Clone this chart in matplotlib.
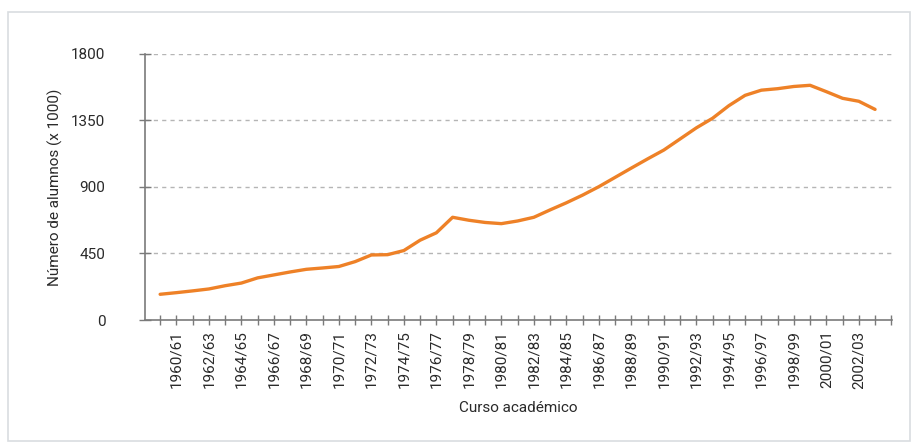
import matplotlib
matplotlib.use("Agg")
import matplotlib.pyplot as plt
from matplotlib.patches import Rectangle
from matplotlib.ticker import FixedLocator

plt.rcParams['font.family'] = ['Roboto', 'DejaVu Sans']

# Academic years 1959/60 .. 2003/04
start_years = list(range(1959, 2004))
courses = [f"{y}/{str(y + 1)[-2:]}" for y in start_years]

students = [174, 185, 197, 210, 232, 250, 285, 305, 325, 343,
            352, 362, 395, 440, 442, 470, 540, 590, 695, 675,
            660, 652, 670, 695, 745, 793, 845, 902, 965, 1028,
            1090, 1150, 1225, 1300, 1365, 1450, 1520, 1555, 1565, 1580,
            1588, 1545, 1500, 1480, 1425]

y_ticks = [0, 450, 900, 1350, 1800]
label_every = 2
label_offset = 1  # first labelled course is 1960/61

fig = plt.figure(figsize=(9.15, 4.46), dpi=100)
fig.patch.set_facecolor('white')
fig.add_artist(Rectangle((0.009, 0.012), 0.985, 0.962, transform=fig.transFigure,
                         fill=False, edgecolor='#d9dde0', linewidth=1.2))

ax = fig.add_axes([0.1585, 0.2825, 0.8165, 0.5965])
x = list(range(len(students)))
ax.plot(x, students, color='#EE8127', linewidth=2.4, solid_capstyle='round', zorder=3)

ax.set_ylim(0, 1800)
ax.set_xlim(-0.93, 45.05)
ax.set_yticks(y_ticks)
ax.set_yticklabels([str(v) for v in y_ticks])
for v in y_ticks[1:]:
    ax.axhline(v, color='#b5b5b5', linewidth=1.0, linestyle=(0, (3, 3)), zorder=1)

lbl_pos = x[label_offset::label_every]
ax.set_xticks(lbl_pos)
ax.set_xticklabels(courses[label_offset::label_every], rotation=90)
ax.xaxis.set_minor_locator(FixedLocator(list(range(0, 46))))

for s in ['top', 'right']:
    ax.spines[s].set_visible(False)
for s in ['left', 'bottom']:
    ax.spines[s].set_color('#7a7a7a')
    ax.spines[s].set_linewidth(1.2)

ax.tick_params(axis='y', direction='inout', length=9, width=1.0, color='#7a7a7a',
               labelsize=11, pad=24, labelcolor='#2a2a2a')
ax.tick_params(axis='x', which='both', direction='inout', length=7, width=1.0,
               color='#7a7a7a', labelsize=11, pad=4, labelcolor='#2a2a2a')

ax.set_ylabel('Número de alumnos (x 1000)', fontsize=11, color='#2a2a2a', labelpad=6)
ax.set_xlabel('Curso académico', fontsize=11, color='#2a2a2a', labelpad=9)

fig.savefig('out.png', dpi=100, facecolor='white')
